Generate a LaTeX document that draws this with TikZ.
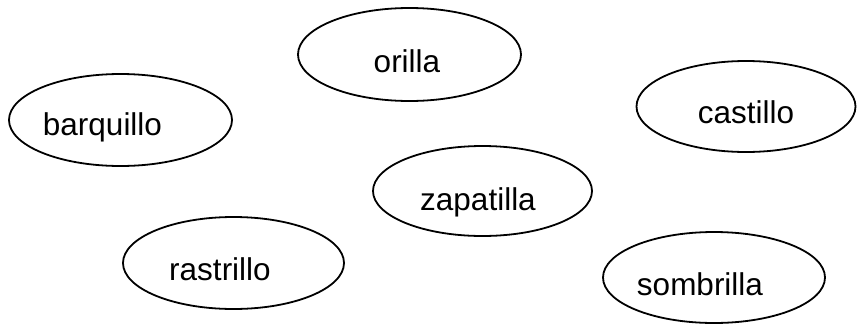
\documentclass[tikz,border=0pt]{standalone}
\usepackage{fontspec}
\setmainfont{Liberation Sans}
\usetikzlibrary{shapes.geometric}
\begin{document}
\begin{tikzpicture}[x=1pt,y=-1pt,
  ell/.style={draw=black, line width=1.8pt, ellipse, inner sep=0pt},
  lbl/.style={anchor=base, inner sep=0pt, font=\fontsize{31.5}{38}\selectfont}]
\useasboundingbox (0,0) rectangle (857,327);
\node[ell, minimum width=223pt, minimum height=93pt] (eorilla) at (409.5,54.5) {};
\node[ell, minimum width=223pt, minimum height=92pt] (ebarquillo) at (120.5,120) {};
\node[ell, minimum width=219pt, minimum height=91pt] (ecastillo) at (746,106.5) {};
\node[ell, minimum width=219pt, minimum height=90pt] (ezapatilla) at (482.5,191) {};
\node[ell, minimum width=221pt, minimum height=92pt] (erastrillo) at (233.5,263) {};
\node[ell, minimum width=222pt, minimum height=91pt] (esombrilla) at (714,277.5) {};
\node[lbl] (torilla) at (407,72) {orilla};
\node[lbl] (tbarquillo) at (102.5,135) {barquillo};
\node[lbl] (tcastillo) at (746,123) {castillo};
\node[lbl] (tzapatilla) at (478,210) {zapatilla};
\node[lbl] (trastrillo) at (220,280) {rastrillo};
\node[lbl] (tsombrilla) at (700,295) {sombrilla};
\end{tikzpicture}
\end{document}
